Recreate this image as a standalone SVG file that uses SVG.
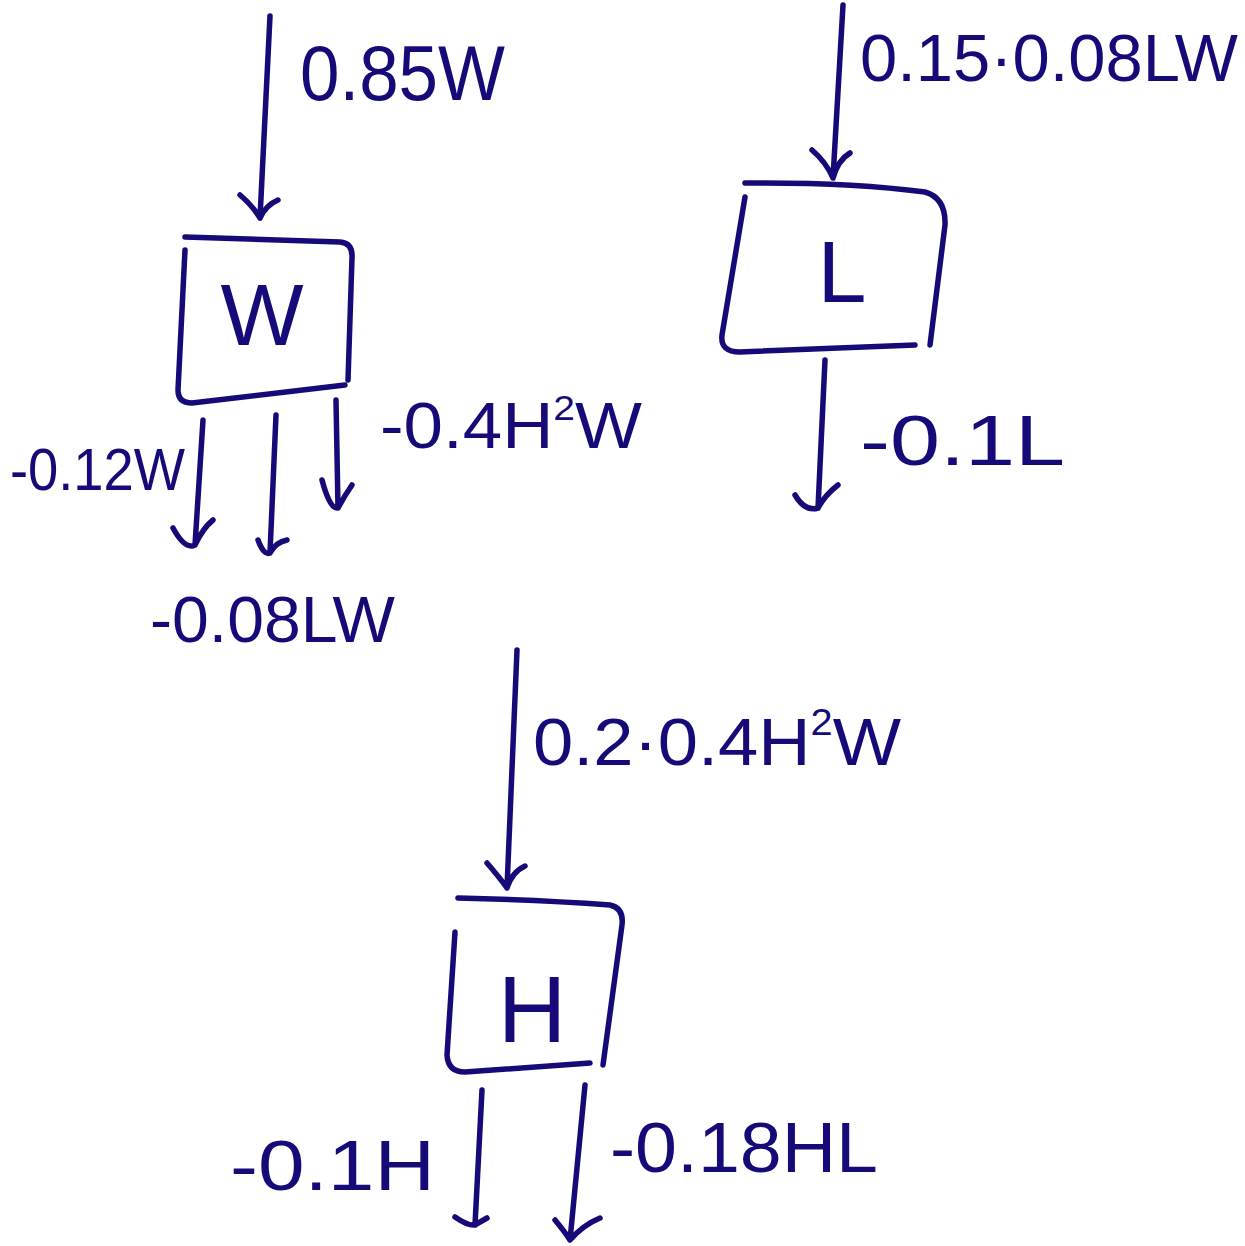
<svg xmlns="http://www.w3.org/2000/svg" width="1245" height="1246" viewBox="0 0 1245 1246">
<style>
.s{fill:none;stroke:#160a78;stroke-width:5.5;stroke-linecap:round;stroke-linejoin:round}
.t{fill:#160a78;font-family:"Liberation Sans",Arial,sans-serif}
.sup{font-size:0.55em}
</style>
<rect width="1245" height="1246" fill="#fff"/>
<g id="connectors">
<path class="s" d="M270 16 L260 218 M240 195 Q252 205 260 218 Q266 205 278 200"/>
<path class="s" d="M843 5 L833 178 M812 150 Q826 162 833 178 Q838 160 850 153"/>
<path class="s" d="M203 420 L195 545 M173 528 Q185 550 195 545 Q203 528 213 520"/>
<path class="s" d="M276 415 L270 553 M258 540 Q264 556 270 553 Q276 542 287 540"/>
<path class="s" d="M336 400 L338 508 M322 480 Q330 510 338 508 Q345 495 352 485"/>
<path class="s" d="M825 360 L818 508 M795 495 Q805 512 818 508 Q825 495 838 485"/>
<path class="s" d="M517 650 L507 888 M487 863 Q500 878 507 888 Q512 872 525 866"/>
<path class="s" d="M482 1090 L475 1225 M455 1217 Q468 1226 475 1225 Q480 1222 487 1218"/>
<path class="s" d="M585 1085 L570 1240 M555 1220 Q565 1232 570 1240 Q583 1225 600 1218"/>
</g>
<g id="labels">
<text class="t" x="300" y="100" font-size="78" textLength="205" lengthAdjust="spacingAndGlyphs">0.85W</text>
<text class="t" x="860" y="81" font-size="66" textLength="378" lengthAdjust="spacingAndGlyphs">0.15·0.08LW</text>
<text class="t" x="10" y="490" font-size="60" textLength="175" lengthAdjust="spacingAndGlyphs">-0.12W</text>
<text class="t" x="380" y="448" font-size="64" textLength="262" lengthAdjust="spacingAndGlyphs">-0.4H<tspan class="sup" dy="-28">2</tspan><tspan dy="28">W</tspan></text>
<text class="t" x="150" y="642" font-size="64" textLength="245" lengthAdjust="spacingAndGlyphs">-0.08LW</text>
<text class="t" x="860" y="465" font-size="70" textLength="205" lengthAdjust="spacingAndGlyphs">-0.1L</text>
<text class="t" x="533" y="765" font-size="66" textLength="368" lengthAdjust="spacingAndGlyphs">0.2·0.4H<tspan class="sup" dy="-30">2</tspan><tspan dy="30">W</tspan></text>
<text class="t" x="230" y="1190" font-size="70" textLength="205" lengthAdjust="spacingAndGlyphs">-0.1H</text>
<text class="t" x="610" y="1172" font-size="70" textLength="268" lengthAdjust="spacingAndGlyphs">-0.18HL</text>
</g>
<g id="node-W">
<path class="s" d="M185 237 Q270 240 340 242 Q353 243 352 258 L348 380 M185 250 L178 390 Q178 403 192 403 L345 385"/>
<text class="t" x="262" y="345" font-size="88" text-anchor="middle">W</text>
</g>
<g id="node-L">
<path class="s" d="M745 183 Q850 182 925 192 Q946 198 945 225 L930 345 M745 197 L722 335 Q720 352 740 352 L915 345"/>
<text class="t" x="842" y="302" font-size="88" text-anchor="middle">L</text>
</g>
<g id="node-H">
<path class="s" d="M458 898 Q540 900 610 905 Q624 908 622 925 L603 1065 M455 932 L447 1055 Q448 1072 465 1072 L590 1063"/>
<text class="t" x="532" y="1042" font-size="95" text-anchor="middle">H</text>
</g>
</svg>
